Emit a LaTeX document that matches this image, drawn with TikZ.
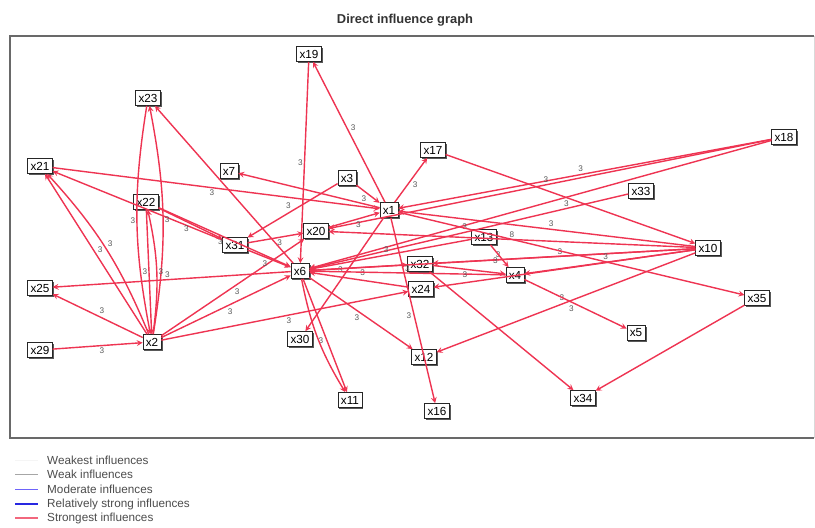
\documentclass[tikz,border=0pt]{standalone}
\usepackage{fontspec}
\setmainfont{Liberation Sans}
\usetikzlibrary{arrows,shadows}
\definecolor{inflred}{RGB}{238,52,82}
\definecolor{framegray}{RGB}{105,105,105}
\definecolor{modblue}{RGB}{110,100,250}
\definecolor{strongblue}{RGB}{40,40,225}
\tikzstyle{vertex}=[draw=black!85,fill=white,font=\fontsize{10}{10}\selectfont,inner xsep=2.5pt,inner ysep=1.5pt,minimum height=13pt,drop shadow={shadow xshift=1.2pt,shadow yshift=-1.2pt,fill=black!65,opacity=1}]
\tikzstyle{edge} = [draw,line width=1.2pt,->,>=stealth,inflred]
\tikzstyle{weight} = [font=\fontsize{7}{7}\selectfont,text=black!65,inner sep=1pt]
\tikzstyle{legendtext} = [anchor=west,font=\fontsize{10}{10}\selectfont,text=black!70,inner sep=0pt]

\begin{document}
\begin{tikzpicture}[x=0.03cm,y=-0.03cm,auto,swap]
    \useasboundingbox (0,0) rectangle (815,527);

    \node[font=\bfseries\fontsize{11}{11}\selectfont,text=black!80] (title) at (405,20) {Direct influence graph};
    \draw[framegray,line width=1.1pt] (814,36) -- (10,36) -- (10,438) -- (814,438);
    \draw[black!15] (814,36) -- (814,438);

    % factors
    \foreach \pos/ \name in {{(309,54)/x19},{(148,98)/x23},{(40,166)/x21},{(229,171)/x7},
        {(347,178)/x3},{(389,210)/x1},{(433,150)/x17},{(784,137)/x18},{(641,191)/x33},
        {(146,202)/x22},{(316,231)/x20},{(235,245)/x31},{(484,237)/x13},{(708,248)/x10},
        {(300,271)/x6},{(420,264)/x32},{(515,275)/x4},{(421,289)/x24},{(40,288)/x25},
        {(757,298)/x35},{(152,342)/x2},{(40,350)/x29},{(300,339)/x30},{(636,333)/x5},
        {(424,357)/x12},{(350,400)/x11},{(583,398)/x34},{(437,411)/x16}}
        \node[vertex] (\name) at \pos {\name};

    % direct influences
    \foreach \source/ \dest/\weight in {x1/x19/3, x19/x6/3, x6/x23/{}, x21/x1/3, x2/x21/3,
        x31/x21/{}, x22/x2/3, x22/x6/3, x22/x31/3, x1/x7/{}, x3/x1/3, x3/x31/3,
        x1/x17/3, x17/x10/3, x18/x1/3, x18/x20/3, x18/x6/{}, x33/x6/3, x10/x1/3,
        x10/x20/8, x10/x6/3, x10/x32/3, x10/x4/3, x10/x24/{}, x10/x12/3, x13/x4/3,
        x13/x6/3, x4/x5/3, x32/x34/{}, x35/x34/{}, x1/x35/{}, x1/x16/3, x1/x30/3,
        x6/x11/3, x6/x12/3, x6/x25/3, x2/x25/3, x29/x2/3, x2/x6/3, x2/x20/3,
        x2/x24/3, x20/x1/3, x31/x6/3, x31/x20/3, x6/x32/3, x24/x6/{}, x4/x6/3, x32/x4/3}
        \path[edge] (\source) -- node[weight] {\weight} (\dest);

    \foreach \source/ \dest/\weight in {x23/x2/3, x2/x23/3, x2/x22/3, x6/x11/{}, x2/x21/3}
        \path[edge] (\source) to[bend right=10] node[weight] {\weight} (\dest);

    % legend
    \foreach \y/ \col/ \lw/ \txt in {460/black!4/0.8pt/Weakest influences,
        474/black!35/0.8pt/Weak influences, 489/modblue/0.8pt/Moderate influences,
        504/strongblue/1.2pt/Relatively strong influences, 518/inflred!75/1.2pt/Strongest influences}
    {
        \draw[\col,line width=\lw] (15,\y) -- (38,\y);
        \node[legendtext] (lg\y) at (47,\y) {\txt};
    }
\end{tikzpicture}
\end{document}
